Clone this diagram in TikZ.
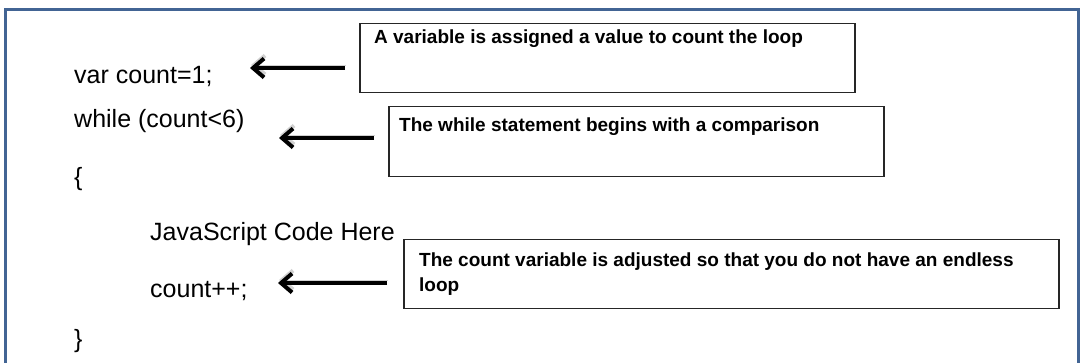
\documentclass[tikz,border=0pt]{standalone}
\usepackage{fontspec}
\setmainfont{Liberation Sans}
\usetikzlibrary{arrows.meta}

\definecolor{framecol}{RGB}{66,100,148}

\begin{document}
\begin{tikzpicture}[x=1pt,y=-1pt,
  code/.style = {anchor=base west, inner sep=0pt, font=\fontsize{25}{30}\selectfont},
  note/.style = {rectangle, draw=black!85, line width=1.5pt, anchor=north west, inner sep=0pt},
  notetext/.style = {anchor=base west, inner sep=0pt, align=left, font=\fontsize{19}{25}\selectfont\bfseries},
  pointer/.style = {-{Straight Barb[length=11pt,width=19pt,line width=4pt]}, line width=3.2pt,
    preaction={draw=black!18, transform canvas={shift={(1pt,3pt)}}}}]

\useasboundingbox (0,0) rectangle (1080,363);
\draw[framecol, line width=3pt] (5.5,9.5) rectangle (1078.5,366);

% the loop
\node[code] (var)   at (74,84)   {var count=1;};
\node[code] (while) at (74,128)  {while (count<6)};
\node[code] (open)  at (74,186)  {\{};
\node[code] (body)  at (150,241) {JavaScript Code Here};
\node[code] (incr)  at (150,298) {count++;};
\node[code] (close) at (74,348)  {\}};

% notes
\node[note, minimum width=495pt, minimum height=69pt] (box1) at (359,23) {};
\node[note, minimum width=495pt, minimum height=70pt] (box2) at (388,106) {};
\node[note, minimum width=655pt, minimum height=69pt] (box3) at (403,239) {};

\node[notetext] (note1) at (374,44)  {A variable is assigned a value to count the loop};
\node[notetext] (note2) at (399,132) {The while statement begins with a comparison};
\node[notetext] (note3) at (419,292) {The count variable is adjusted so that you do not have an endless\\loop};

% arrows
\coordinate (tip1) at (250,68);
\coordinate (tip2) at (279,138);
\coordinate (tip3) at (278,283);

\draw[pointer, shorten <=14pt] (box1.west |- tip1) -- (tip1);
\draw[pointer, shorten <=14pt] (box2.west |- tip2) -- (tip2);
\draw[pointer, shorten <=16pt] (box3.west |- tip3) -- (tip3);

\end{tikzpicture}
\end{document}
